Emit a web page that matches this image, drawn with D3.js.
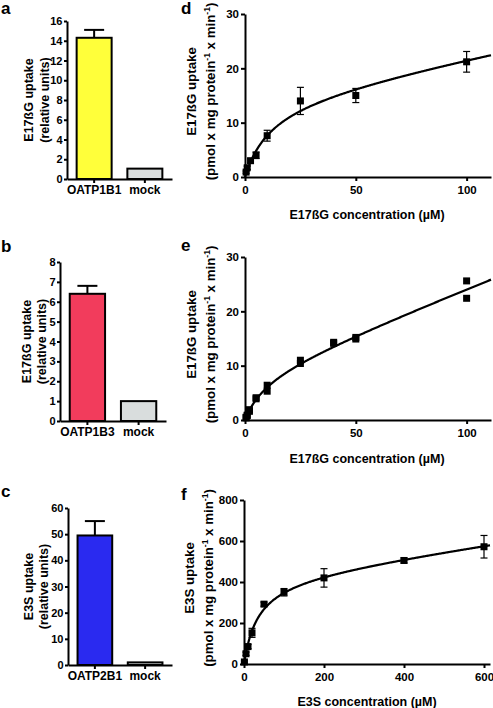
<!DOCTYPE html>
<html><head><meta charset="utf-8">
<script src="https://cdn.jsdelivr.net/npm/d3@7"></script>
<style>
body{margin:0;background:#fff}
svg text{font-family:"Liberation Sans",Arial,sans-serif;font-weight:bold;fill:#000}
</style>
</head><body>
<svg id="chart" width="493" height="708"></svg>
<script>
// ---------- DATA ----------
// Panel a
const aCategories = ["OATP1B1", "mock"];
const aValues = [14.3, 1.05];
const aErrors = [0.8, 0];
const aTicks = [0, 2, 4, 6, 8, 10, 12, 14, 16];
// Panel b
const bCategories = ["OATP1B3", "mock"];
const bValues = [6.4, 1.0];
const bErrors = [0.4, 0];
const bTicks = [0, 1, 2, 3, 4, 5, 6, 7, 8];
// Panel c
const cCategories = ["OATP2B1", "mock"];
const cValues = [49.5, 1.0];
const cErrors = [5.5, 0];
const cTicks = [0, 10, 20, 30, 40, 50, 60];
const barColorsA = ["#ffff3a", "#d9dddd"];
const barColorsB = ["#f23c5c", "#d9dddd"];
const barColorsC = ["#2a2af0", "#d9dddd"];

// Panel d (mean ± SD)
const dConc = [0.5, 1, 2.5, 5, 10, 25, 50, 100];
const dMean = [0.9, 1.7, 3.0, 4.0, 7.6, 14.0, 15.0, 21.2];
const dSD = [0.2, 0.3, 0.4, 0.6, 1.0, 2.5, 1.3, 1.9];
const dXTicks = [0, 50, 100];
const dYTicks = [0, 10, 20, 30];
const dFit = {vmax: 15, km: 12, kd: 0.08};

// Panel e (individual replicates)
const eConc = [0.5, 0.5, 1, 1, 2, 2, 5, 5, 10, 10, 25, 25, 40, 40, 50, 50, 100, 100];
const eValue = [0.4, 0.5, 0.8, 0.9, 1.6, 1.9, 3.9, 4.1, 5.3, 6.4, 10.4, 11.0, 14.1, 14.3, 14.9, 15.2, 22.4, 25.6];
const eXTicks = [0, 50, 100];
const eYTicks = [0, 10, 20, 30];
const eFit = {vmax: 8.8, km: 10, kd: 0.16};

// Panel f (mean ± SD)
const fConc = [1, 5, 10, 20, 50, 100, 200, 400, 600];
const fMean = [10, 50, 85, 152, 292, 350, 420, 505, 572];
const fSD = [5, 8, 10, 22, 10, 18, 45, 12, 55];
const fXTicks = [0, 200, 400, 600];
const fYTicks = [0, 200, 400, 600, 800];
const fFit = {vmax: 430, km: 35, kd: 0.28};

// ---------- DRAW ----------
const svg = d3.select("#chart");
svg.append("rect").attr("width", 493).attr("height", 708).attr("fill", "#fff");

function styleAxis(g, fs) {
  g.attr("font-family", null).attr("font-size", null);
  g.select(".domain").attr("stroke", "#000").attr("stroke-width", 2);
  g.selectAll(".tick line").attr("stroke", "#000").attr("stroke-width", 2);
  g.selectAll(".tick text").style("font-size", fs + "px");
}

function yTitle(tx1, tx2, cy, fs, line1, line2Parts) {
  svg.append("text").attr("transform", `translate(${tx1},${cy}) rotate(-90)`)
    .attr("text-anchor", "middle").attr("dy", "0.35em").style("font-size", fs + "px").text(line1);
  const t = svg.append("text").attr("transform", `translate(${tx2},${cy}) rotate(-90)`)
    .attr("text-anchor", "middle").attr("dy", "0.35em").style("font-size", fs + "px");
  line2Parts.forEach(p => {
    const s = t.append("tspan").text(p.t);
    if (p.sup) s.attr("baseline-shift", "super").style("font-size", "8.5px");
  });
}

function letter(x, y, s) {
  svg.append("text").attr("x", x).attr("y", y).style("font-size", "17px").text(s);
}

function barPanel(o) {
  const y = d3.scaleLinear().domain([0, o.ticks[o.ticks.length - 1]]).range([o.yBot, o.yTop]);
  const x = d3.scaleBand().domain(o.cats).range([o.x0, o.x1]).paddingInner(0.31).paddingOuter(0.19);
  const g = svg.append("g");
  o.cats.forEach((c, i) => {
    if (o.errors[i] > 0) {
      const cx = x(c) + x.bandwidth() / 2;
      g.append("line").attr("x1", cx).attr("x2", cx).attr("y1", y(o.values[i])).attr("y2", y(o.values[i] + o.errors[i]))
        .attr("stroke", "#000").attr("stroke-width", 2);
      g.append("line").attr("x1", cx - 10).attr("x2", cx + 10).attr("y1", y(o.values[i] + o.errors[i])).attr("y2", y(o.values[i] + o.errors[i]))
        .attr("stroke", "#000").attr("stroke-width", 2);
    }
  });
  g.selectAll("rect.bar").data(o.cats).join("rect").attr("class", "bar")
    .attr("x", c => x(c)).attr("width", x.bandwidth())
    .attr("y", (c, i) => y(o.values[i])).attr("height", (c, i) => o.yBot - y(o.values[i]))
    .attr("fill", (c, i) => o.colors[i]).attr("stroke", "#000").attr("stroke-width", 2);
  const ya = svg.append("g").attr("transform", `translate(${o.x0},0)`)
    .call(d3.axisLeft(y).tickValues(o.ticks).tickSize(3).tickSizeOuter(0).tickPadding(1.5));
  styleAxis(ya, 11);
  const xa = svg.append("g").attr("transform", `translate(0,${o.yBot})`)
    .call(d3.axisBottom(x).tickSize(4).tickSizeOuter(0).tickPadding(2));
  styleAxis(xa, 12);
  yTitle(o.t1x, o.t2x, (o.yTop + o.yBot) / 2, 12.5, o.title1, [{t: "(relative units)"}]);
  letter(o.lx, o.ly, o.letter);
}

function scatterPanel(o) {
  const x = d3.scaleLinear().domain([0, o.xEnd]).range([o.x0, o.x1]);
  const y = d3.scaleLinear().domain([0, o.yTicks[o.yTicks.length - 1]]).range([o.yBot, o.yTop]);
  const g = svg.append("g");
  const fitPts = d3.range(0, o.fitEnd + 1e-9, o.fitEnd / 400).map(s => [s, o.fit.vmax * s / (o.fit.km + s) + o.fit.kd * s]);
  g.append("path").datum(fitPts)
    .attr("d", d3.line().x(d => x(d[0])).y(d => y(d[1])))
    .attr("fill", "none").attr("stroke", "#000").attr("stroke-width", 2.2);
  if (o.sd) {
    o.conc.forEach((c, i) => {
      const cx = x(c), t = y(o.vals[i] + o.sd[i]), b = y(o.vals[i] - o.sd[i]);
      g.append("line").attr("x1", cx).attr("x2", cx).attr("y1", t).attr("y2", b).attr("stroke", "#000").attr("stroke-width", 1.2);
      [t, b].forEach(yy => g.append("line").attr("x1", cx - 3.5).attr("x2", cx + 3.5).attr("y1", yy).attr("y2", yy)
        .attr("stroke", "#000").attr("stroke-width", 1.2));
    });
  }
  g.selectAll("rect.pt").data(o.conc).join("rect").attr("class", "pt")
    .attr("x", c => x(c) - 3.5).attr("y", (c, i) => y(o.vals[i]) - 3.5)
    .attr("width", 7).attr("height", 7).attr("fill", "#000");
  const ya = svg.append("g").attr("transform", `translate(${o.x0},0)`)
    .call(d3.axisLeft(y).tickValues(o.yTicks).tickSize(4).tickSizeOuter(0).tickPadding(2));
  styleAxis(ya, 11.5);
  const xa = svg.append("g").attr("transform", `translate(0,${o.yBot})`)
    .call(d3.axisBottom(x).tickValues(o.xTicks).tickSize(4).tickSizeOuter(0).tickPadding(5));
  styleAxis(xa, 11.5);
  svg.append("text").attr("x", o.xlx).attr("y", o.xly).attr("text-anchor", "middle")
    .style("font-size", "12.5px").text(o.xTitle);
  yTitle(o.t1x, o.t2x, (o.yTop + o.yBot) / 2 - 4, 13.3, o.title1,
    [{t: "(pmol x mg protein"}, {t: "-1", sup: true}, {t: " x min"}, {t: "-1", sup: true}, {t: ")"}]);
  letter(o.lx, o.ly, o.letter);
}

barPanel({letter: "a", lx: 1, ly: 14, x0: 67, x1: 172, yTop: 21, yBot: 179, ticks: aTicks,
  cats: aCategories, values: aValues, errors: aErrors, colors: barColorsA,
  title1: "E17ßG uptake", t1x: 29, t2x: 45});
barPanel({letter: "b", lx: 1, ly: 252, x0: 60, x1: 166, yTop: 262, yBot: 421, ticks: bTicks,
  cats: bCategories, values: bValues, errors: bErrors, colors: barColorsB,
  title1: "E17ßG uptake", t1x: 27, t2x: 42});
barPanel({letter: "c", lx: 1, ly: 497, x0: 68, x1: 172, yTop: 508, yBot: 665, ticks: cTicks,
  cats: cCategories, values: cValues, errors: cErrors, colors: barColorsC,
  title1: "E3S uptake", t1x: 29, t2x: 44});

scatterPanel({letter: "d", lx: 181, ly: 14, x0: 245, x1: 491, xEnd: 111, fitEnd: 111,
  yTop: 14, yBot: 177, xTicks: dXTicks, yTicks: dYTicks, conc: dConc, vals: dMean, sd: dSD, fit: dFit,
  xTitle: "E17ßG concentration (µM)", xlx: 367, xly: 219, title1: "E17ßG uptake", t1x: 191, t2x: 210});
scatterPanel({letter: "e", lx: 181, ly: 251, x0: 245, x1: 491, xEnd: 111, fitEnd: 111,
  yTop: 257, yBot: 420, xTicks: eXTicks, yTicks: eYTicks, conc: eConc, vals: eValue, sd: null, fit: eFit,
  xTitle: "E17ßG concentration (µM)", xlx: 367, xly: 463, title1: "E17ßG uptake", t1x: 191, t2x: 210});
scatterPanel({letter: "f", lx: 181, ly: 500, x0: 244, x1: 490, xEnd: 615, fitEnd: 615,
  yTop: 500, yBot: 664, xTicks: fXTicks, yTicks: fYTicks, conc: fConc, vals: fMean, sd: fSD, fit: fFit,
  xTitle: "E3S concentration (µM)", xlx: 367, xly: 706, title1: "E3S uptake", t1x: 189, t2x: 208});
</script>
</body></html>
